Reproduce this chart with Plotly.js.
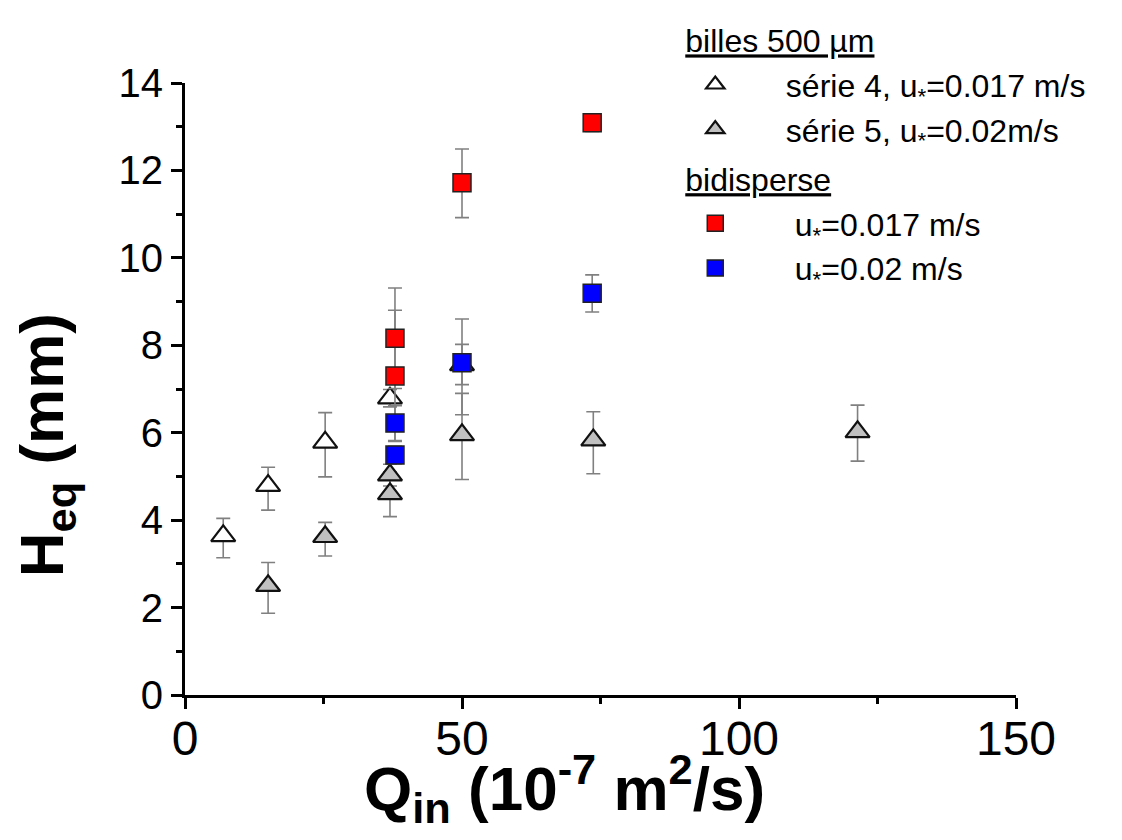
<!DOCTYPE html>
<html>
<head>
<meta charset="utf-8">
<script src="https://cdn.plot.ly/plotly-3.0.1.min.js"></script>
<style>html,body{margin:0;padding:0;background:#fff;}#chart{width:1122px;height:840px;}</style>
</head>
<body>
<div id="chart"></div>
<script>
// série 4, u*=0.017 m/s (billes 500 µm)
const s4_x = [6.9, 15.0, 25.3, 37.0, 50.0];
const s4_y = [3.64, 4.79, 5.78, 6.79, 7.55];
const s4_err_up = [0.40, 0.42, 0.68, 0.20, 1.05];
const s4_err_dn = [0.50, 0.56, 0.79, 0.20, 1.14];

// série 5, u*=0.02 m/s (billes 500 µm)
const s5_x = [15.0, 25.3, 37.0, 37.0, 50.0, 73.7, 121.4];
const s5_y = [2.50, 3.62, 5.03, 4.60, 5.95, 5.83, 6.02];
const s5_err_up = [0.53, 0.33, 0.25, 0.50, 0.95, 0.65, 0.61];
const s5_err_dn = [0.63, 0.44, 0.25, 0.52, 1.02, 0.77, 0.67];

// bidisperse u*=0.017 m/s
const red_x = [37.9, 37.9, 50.0, 73.5];
const red_y = [8.16, 7.30, 11.72, 13.09];
const red_err_up = [1.15, 1.50, 0.77, 0.20];
const red_err_dn = [1.15, 1.50, 0.80, 0.20];

// bidisperse u*=0.02 m/s
const blue_x = [37.9, 37.9, 50.0, 73.5];
const blue_y = [6.22, 5.49, 7.60, 9.19];
const blue_err_up = [0.40, 0.20, 0.42, 0.42];
const blue_err_dn = [0.40, 0.20, 0.50, 0.43];

const NB = "\u00a0";
const names = [
  NB.repeat(4) + "série 4, u<sub>*</sub>=0.017 m/s",
  NB.repeat(4) + "série 5, u<sub>*</sub>=0.02m/s",
  NB.repeat(5) + "u<sub>*</sub>=0.017 m/s",
  NB.repeat(5) + "u<sub>*</sub>=0.02 m/s"
];
const groupTitles = ["<u>billes 500 µm</u>", "<u>bidisperse</u>"];
const xTitle = "<b>Q<sub>in</sub> (10<sup>-7</sup> m<sup>2</sup>/s)</b>";
const yTitle = "<b>H<sub>eq</sub> (mm)</b>";

const errStyle = (up, dn) => ({type:'data', symmetric:false, array:up, arrayminus:dn,
  color:'#808080', thickness:1.6, width:7});

const traces = [
  {x:s4_x, y:s4_y, mode:'markers', type:'scatter', name:names[0],
   legendgroup:'g1', legendgrouptitle:{text:groupTitles[0]},
   marker:{symbol:'triangle-up', size:21, color:'#ffffff', line:{color:'#111', width:2.2}},
   error_y:errStyle(s4_err_up, s4_err_dn)},
  {x:s5_x, y:s5_y, mode:'markers', type:'scatter', name:names[1],
   legendgroup:'g1',
   marker:{symbol:'triangle-up', size:21, color:'#c0c0c0', line:{color:'#111', width:2.2}},
   error_y:errStyle(s5_err_up, s5_err_dn)},
  {x:red_x, y:red_y, mode:'markers', type:'scatter', name:names[2],
   legendgroup:'g2', legendgrouptitle:{text:groupTitles[1]},
   marker:{symbol:'square', size:18, color:'#ff0000', line:{color:'#222', width:1.5}},
   error_y:errStyle(red_err_up, red_err_dn)},
  {x:blue_x, y:blue_y, mode:'markers', type:'scatter', name:names[3],
   legendgroup:'g2',
   marker:{symbol:'square', size:18, color:'#0000ff', line:{color:'#222', width:1.5}},
   error_y:errStyle(blue_err_up, blue_err_dn)}
];

const layout = {
  width:1122, height:840,
  paper_bgcolor:'#ffffff', plot_bgcolor:'#ffffff',
  margin:{l:185, r:106, t:83, b:145},
  font:{family:'"Liberation Sans", Arial, sans-serif', color:'#000'},
  showlegend:true,
  legend:{x:0.596, y:1.115, xanchor:'left', yanchor:'top', bgcolor:'rgba(0,0,0,0)',
    font:{size:32, color:'#000'}, grouptitlefont:{size:32, color:'#000'},
    itemwidth:60, tracegroupgap:5, traceorder:'grouped'},
  xaxis:{range:[0,150], tickvals:[0,50,100,150], ticktext:['0','50','100','150'],
    showline:true, linewidth:3, linecolor:'#000', ticks:'outside', ticklen:11, tickwidth:3, tickcolor:'#000',
    minor:{ticks:'outside', ticklen:6, tickwidth:3, tickcolor:'#000', dtick:25, tick0:0},
    showgrid:false, zeroline:false, tickfont:{size:48}, ticklabelstandoff:-12},
  yaxis:{range:[0,14], dtick:2, tick0:0,
    showline:true, linewidth:3, linecolor:'#000', ticks:'outside', ticklen:11, tickwidth:3, tickcolor:'#000',
    minor:{ticks:'outside', ticklen:6, tickwidth:3, tickcolor:'#000', dtick:1, tick0:0},
    showgrid:false, zeroline:false, tickfont:{size:40}},
  annotations:[
    {text:xTitle, xref:'paper', yref:'paper', x:0.457, y:-0.153, xanchor:'center', yanchor:'middle',
     showarrow:false, font:{size:62, color:'#000'}},
    {text:yTitle, xref:'paper', yref:'paper', x:-0.167, y:0.4085, xanchor:'center', yanchor:'middle',
     textangle:-90, showarrow:false, font:{size:62, color:'#000'}}
  ]
};

Plotly.newPlot('chart', traces, layout, {displayModeBar:false, staticPlot:true});
</script>
</body>
</html>
